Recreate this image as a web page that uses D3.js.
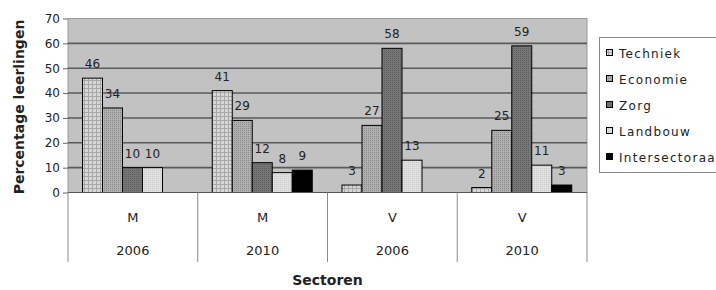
<!DOCTYPE html>
<meta charset="utf-8">
<script src="https://d3js.org/d3.v7.min.js"></script>
<style>
  body { margin: 0; background: #fff; }
  text { font-family: "DejaVu Sans", sans-serif; fill: #222; }
  .axis text { font-size: 12px; }
  .axis path { display: none; }
  .axis line { stroke: #666; }
  .grid line { stroke: #5a5a5a; stroke-width: 1.6px; }
  .valLabel { font-size: 12px; }
  .catLabel { font-size: 13px; }
  .title { font-size: 14px; font-weight: bold; }
  .legend text { font-size: 12px; letter-spacing: 1.3px; }
</style>
<body></body>
<script>
// data
var groups = ["M|2006", "M|2010", "V|2006", "V|2010"];
var sexLabels = ["M", "M", "V", "V"];
var yearLabels = ["2006", "2010", "2006", "2010"];
var series = ["Techniek", "Economie", "Zorg", "Landbouw", "Intersectoraal"];
var techniek = [46, 41, 3, 2];
var economie = [34, 29, 27, 25];
var zorg = [10, 12, 58, 59];
var landbouw = [10, 8, 13, 11];
var intersectoraal = [null, 9, null, 3];
var yTicks = [0, 10, 20, 30, 40, 50, 60, 70];

var values = [techniek, economie, zorg, landbouw, intersectoraal];
var fills = ["url(#pTech)", "url(#pEcon)", "url(#pZorg)", "url(#pLand)", "#000"];

var W = 716, H = 290;
var plotLeft = 68, plotRight = 587, plotTop = 18.5, plotBottom = 192.5;

var svg = d3.select("body").append("svg")
  .attr("width", W)
  .attr("height", H);

// patterns
var defs = svg.append("defs");
function pattern(id, size, base, draw) {
  var p = defs.append("pattern").attr("id", id)
    .attr("patternUnits", "userSpaceOnUse")
    .attr("width", size).attr("height", size);
  p.append("rect").attr("width", size).attr("height", size).attr("fill", base);
  draw(p);
}
pattern("pTech", 4, "#d6d6d6", function(p) {
  p.append("rect").attr("width", 4).attr("height", 1).attr("fill", "#a8a8a8");
  p.append("rect").attr("width", 1).attr("height", 4).attr("fill", "#a8a8a8");
});
pattern("pEcon", 2, "#b0b0b0", function(p) {
  p.append("rect").attr("width", 1).attr("height", 1).attr("fill", "#8a8a8a");
});
pattern("pZorg", 2, "#767676", function(p) {
  p.append("rect").attr("width", 1).attr("height", 1).attr("fill", "#5e5e5e");
});
pattern("pLand", 2, "#e0e0e0", function(p) {
  p.append("rect").attr("width", 1).attr("height", 1).attr("fill", "#cbcbcb");
});

// scales
var x0 = d3.scaleBand().domain(groups).range([plotLeft, plotRight]);
var x1 = d3.scaleBand().domain(series).range([14.5, 114.5]);
var y = d3.scaleLinear().domain([0, 70]).range([plotBottom, plotTop]);

// plot background
svg.append("rect")
  .attr("x", plotLeft).attr("y", plotTop)
  .attr("width", plotRight - plotLeft).attr("height", plotBottom - plotTop)
  .attr("fill", "#c2c2c2")
  .attr("stroke", "#9a9a9a");

// gridlines
svg.append("g").attr("class", "grid")
  .selectAll("line").data(yTicks.filter(function(d) { return d > 0 && d < 70; }))
  .enter().append("line")
  .attr("x1", plotLeft).attr("x2", plotRight)
  .attr("y1", function(d) { return y(d); })
  .attr("y2", function(d) { return y(d); });

// y axis
svg.append("g").attr("class", "axis")
  .attr("transform", "translate(" + plotLeft + ",0)")
  .call(d3.axisLeft(y).tickValues(yTicks).tickSize(5).tickPadding(3));

// bars
series.forEach(function(s, si) {
  var g = svg.append("g");
  groups.forEach(function(grp, gi) {
    var v = values[si][gi];
    if (v == null) return;
    var bx = x0(grp) + x1(s);
    g.append("rect")
      .attr("x", bx).attr("y", y(v))
      .attr("width", x1.bandwidth()).attr("height", y(0) - y(v))
      .attr("fill", fills[si])
      .attr("stroke", "#000").attr("stroke-width", 1);
    g.append("text").attr("class", "valLabel")
      .attr("x", bx + x1.bandwidth() / 2)
      .attr("y", y(v) - 10)
      .attr("text-anchor", "middle")
      .text(v);
  });
});

// x axis line + category separators
svg.append("line")
  .attr("x1", plotLeft).attr("x2", plotRight)
  .attr("y1", plotBottom).attr("y2", plotBottom)
  .attr("stroke", "#555").attr("stroke-width", 1.2);

var seps = groups.map(function(g) { return x0(g); }).concat([plotRight]);
svg.selectAll(".sep").data(seps).enter().append("line")
  .attr("class", "sep")
  .attr("x1", function(d) { return d; }).attr("x2", function(d) { return d; })
  .attr("y1", plotBottom).attr("y2", 262)
  .attr("stroke", "#8a8a8a");

groups.forEach(function(grp, gi) {
  var cx = x0(grp) + x0.bandwidth() / 2;
  svg.append("text").attr("class", "catLabel")
    .attr("x", cx).attr("y", 222).attr("text-anchor", "middle")
    .text(sexLabels[gi]);
  svg.append("text").attr("class", "catLabel")
    .attr("x", cx).attr("y", 255).attr("text-anchor", "middle")
    .text(yearLabels[gi]);
});

// axis titles
svg.append("text").attr("class", "title")
  .attr("x", (plotLeft + plotRight) / 2).attr("y", 285)
  .attr("text-anchor", "middle")
  .text("Sectoren");

svg.append("text").attr("class", "title")
  .attr("transform", "translate(24,107) rotate(-90)")
  .attr("text-anchor", "middle")
  .text("Percentage leerlingen");

// legend
var legend = svg.append("g").attr("class", "legend");
legend.append("rect")
  .attr("x", 599.5).attr("y", 37.5)
  .attr("width", 140).attr("height", 135)
  .attr("fill", "#fff").attr("stroke", "#888");

series.forEach(function(s, i) {
  var ly = 53 + i * 26;
  legend.append("rect")
    .attr("x", 606.5).attr("y", ly - 3.5)
    .attr("width", 6).attr("height", 6)
    .attr("fill", fills[i]).attr("stroke", "#000");
  legend.append("text")
    .attr("x", 619).attr("y", ly + 4.5)
    .text(s);
});
</script>
